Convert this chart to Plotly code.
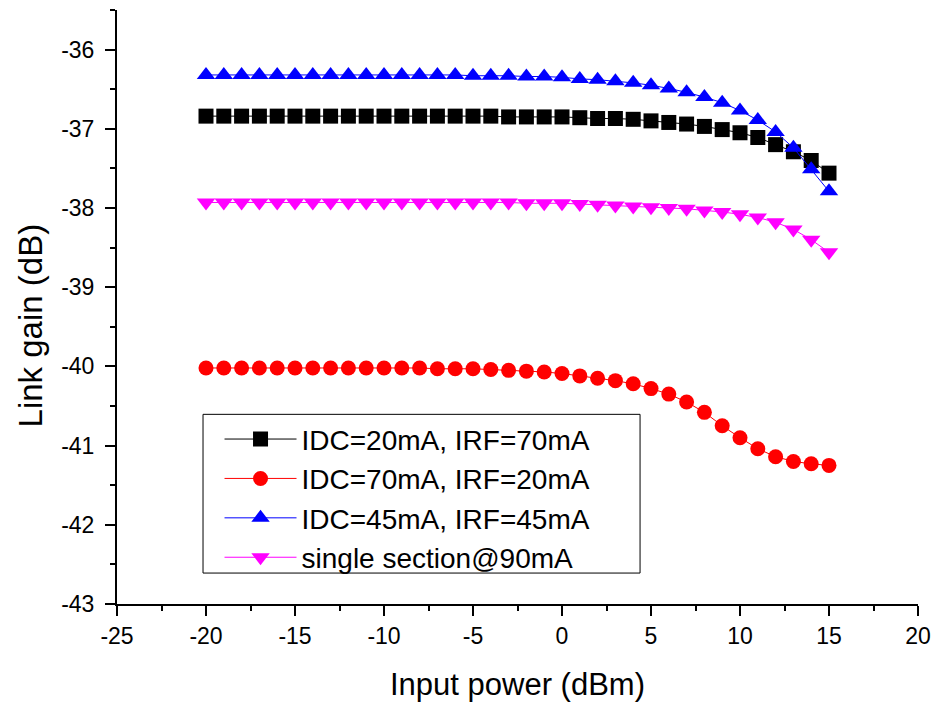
import plotly.graph_objects as go

x_dbm = list(range(-20, 16))

idc20_irf70 = [-36.84]*15 + [-36.84, -36.84, -36.85, -36.85, -36.85, -36.85, -36.86, -36.87, -36.87, -36.88,
                             -36.90, -36.92, -36.94, -36.97, -37.01, -37.05, -37.11, -37.20, -37.29, -37.40, -37.56]
idc70_irf20 = [-40.02]*12 + [-40.02, -40.03, -40.03, -40.03, -40.04, -40.05, -40.06, -40.07, -40.09, -40.12,
                             -40.15, -40.18, -40.22, -40.28, -40.35, -40.45, -40.58, -40.75, -40.90, -41.04,
                             -41.14, -41.20, -41.23, -41.25]
idc45_irf45 = [-36.32]*13 + [-36.32, -36.32, -36.33, -36.33, -36.33, -36.34, -36.34, -36.35, -36.37, -36.38,
                             -36.40, -36.42, -36.45, -36.49, -36.54, -36.60, -36.67, -36.77, -36.89, -37.04,
                             -37.24, -37.51, -37.79]
single_90 = [-37.93]*16 + [-37.93, -37.93, -37.94, -37.94, -37.94, -37.95, -37.96, -37.97, -37.98, -37.99,
                           -38.00, -38.01, -38.03, -38.05, -38.08, -38.12, -38.18, -38.27, -38.40, -38.56]

x_ticks = [-25, -20, -15, -10, -5, 0, 5, 10, 15, 20]
x_tick_text = ["-25", "-20", "-15", "-10", "-5", "0", "5", "10", "15", "20"]
y_ticks = [-43, -42, -41, -40, -39, -38, -37, -36]
y_tick_text = ["-43", "-42", "-41", "-40", "-39", "-38", "-37", "-36"]

names = ["IDC=20mA, IRF=70mA", "IDC=70mA, IRF=20mA", "IDC=45mA, IRF=45mA", "single section@90mA"]
colors = ["#000000", "#ff0000", "#0000ff", "#ff00ff"]
symbols = ["square", "circle", "triangle-up", "triangle-down"]
sizes = [15, 15, 16, 16]
series = [idc20_irf70, idc70_irf20, idc45_irf45, single_90]

fig = go.Figure()
for n, c, s, sz, y in zip(names, colors, symbols, sizes, series):
    fig.add_trace(go.Scatter(x=x_dbm, y=y, name=n, mode="lines+markers",
                             line=dict(color=c, width=1),
                             marker=dict(symbol=s, size=sz, color=c, line=dict(width=0))))

font = "Liberation Sans, Arial, sans-serif"
fig.update_layout(
    width=941, height=706,
    margin=dict(l=117, r=14, t=10, b=101),
    paper_bgcolor="white", plot_bgcolor="white",
    font=dict(family=font, color="black", size=23),
    showlegend=True,
    legend=dict(x=0.128, y=0.3193, xanchor="left", yanchor="top",
                borderwidth=0, bgcolor="rgba(0,0,0,0)",
                font=dict(size=28, family=font), itemwidth=72,
                tracegroupgap=0),
    shapes=[dict(type="rect", xref="paper", yref="paper", x0=0.1074, x1=0.653, y0=0.0521, y1=0.3193,
                 line=dict(color="black", width=1), fillcolor="rgba(0,0,0,0)", layer="below")],
    annotations=[dict(text="Link gain (dB)", textangle=-90, xref="paper", yref="paper",
                      x=(29 - 117) / 810, y=(605 - 326) / 595, xanchor="center", yanchor="middle",
                      showarrow=False, font=dict(size=33, family=font))],
)
fig.update_xaxes(range=[-25, 20], tickmode="array", tickvals=x_ticks, ticktext=x_tick_text,
                 showgrid=False, zeroline=False, showline=True, linecolor="black", linewidth=2,
                 ticks="outside", ticklen=10, tickwidth=2, tickcolor="black",
                 minor=dict(ticks="outside", ticklen=5, tickwidth=2, dtick=2.5, tick0=-25, tickcolor="black"),
                 tickfont=dict(size=23),
                 title=dict(text="Input power (dBm)", font=dict(size=31), standoff=26))
fig.update_yaxes(range=[-43, -35.5], tickmode="array", tickvals=y_ticks, ticktext=y_tick_text,
                 showgrid=False, zeroline=False, showline=True, linecolor="black", linewidth=2,
                 ticks="outside", ticklen=10, tickwidth=2, tickcolor="black",
                 minor=dict(ticks="outside", ticklen=5, tickwidth=2, dtick=0.5, tick0=-43, tickcolor="black"),
                 tickfont=dict(size=23), ticklabelstandoff=6)

fig.write_html("out.html")
